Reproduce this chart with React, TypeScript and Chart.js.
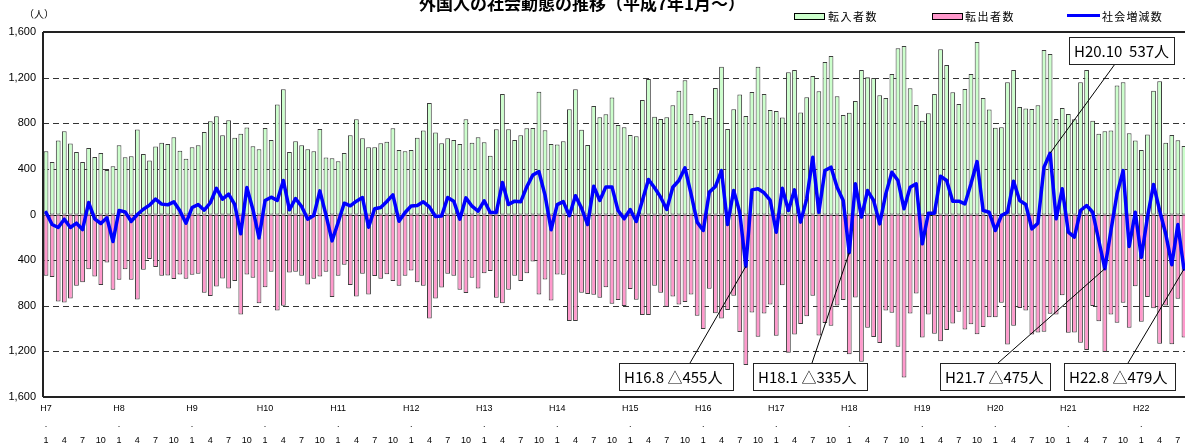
import React, { useEffect, useRef } from 'react';
import { Chart, registerables } from 'chart.js';

Chart.register(...registerables);

// ---- data ----
const yearLabels = ['H7', 'H8', 'H9', 'H10', 'H11', 'H12', 'H13', 'H14', 'H15', 'H16', 'H17', 'H18', 'H19', 'H20', 'H21', 'H22'];
const labeledMonths = [1, 4, 7, 10];

// 転入者数 (monthly, H7.1 - H22.8)
const inflow = [
  555, 461, 648, 730, 622, 549, 461, 584, 505, 540, 391, 423,
  607, 502, 511, 745, 531, 473, 596, 628, 619, 677, 558, 488,
  590, 607, 724, 818, 861, 695, 826, 672, 707, 762, 599, 572,
  759, 654, 964, 1098, 549, 642, 607, 572, 555, 750, 499, 493,
  467, 540, 695, 835, 669, 590, 590, 625, 637, 756, 566, 555,
  566, 672, 736, 978, 718, 625, 669, 654, 619, 835, 628, 677,
  634, 514, 748, 1057, 748, 654, 695, 756, 759, 1077, 739, 619,
  613, 642, 923, 1098, 742, 610, 952, 853, 879, 1025, 785, 765,
  698, 686, 1004, 1188, 858, 838, 853, 958, 1086, 1177, 882, 821,
  864, 847, 1110, 1296, 750, 923, 1051, 864, 1075, 1296, 1057, 917,
  908, 850, 1247, 1267, 894, 1028, 1215, 1080, 1337, 1390, 1037, 873,
  891, 996, 1267, 1203, 1197, 1045, 1022, 1232, 1457, 1478, 1107, 961,
  821, 888, 1057, 1448, 1311, 1072, 969, 1101, 1232, 1513, 1022, 920,
  760, 765, 1159, 1267, 943, 929, 926, 958, 1442, 1407, 838, 934,
  882, 835, 1159, 1267, 823, 707, 730, 736, 1130, 1159, 712, 648,
  566, 701, 1086, 1168, 628, 698, 651, 600,
];

// 転出者数 (monthly, H7.1 - H22.8)
const outflow = [
  537, 549, 762, 771, 736, 625, 593, 479, 543, 619, 420, 660,
  572, 479, 572, 745, 485, 391, 461, 537, 534, 566, 526, 564,
  529, 520, 686, 715, 631, 561, 648, 584, 876, 526, 555, 777,
  637, 502, 841, 800, 508, 502, 537, 613, 564, 543, 502, 724,
  537, 441, 619, 718, 520, 701, 540, 564, 523, 584, 625, 537,
  491, 593, 625, 911, 736, 639, 520, 537, 660, 689, 555, 648,
  514, 496, 730, 777, 660, 537, 584, 514, 412, 701, 569, 753,
  526, 529, 934, 934, 686, 698, 704, 730, 637, 783, 750, 803,
  654, 747, 881, 881, 624, 686, 809, 719, 788, 768, 701, 888,
  1004, 651, 865, 911, 838, 713, 1031, 1319, 859, 1071, 867, 790,
  1063, 620, 1212, 1051, 961, 891, 713, 1060, 952, 975, 798, 750,
  1226, 727, 1290, 993, 1074, 1127, 841, 861, 1159, 1428, 868, 692,
  1078, 876, 1045, 1112, 1013, 955, 852, 1008, 963, 1049, 987, 900,
  900, 774, 1139, 975, 820, 841, 1052, 1034, 1027, 870, 876, 709,
  1037, 1034, 1124, 1188, 803, 935, 1205, 876, 949, 774, 992, 628,
  940, 724, 823, 1133, 797, 1138, 739, 1079,
];

// 社会増減数 = 転入者数 - 転出者数
const netChange = inflow.map((v, i) => v - outflow[i]);

const yTickValues = [-1600, -1200, -800, -400, 0, 400, 800, 1200, 1600];
const seriesNames = ['転入者数', '転出者数', '社会増減数'];
const chartTitle = '外国人の社会動態の推移（平成7年1月～）';
const unitLabel = '（人）';
const calloutTexts = ['H16.8 △455人', 'H18.1 △335人', 'H20.10  537人', 'H21.7 △475人', 'H22.8 △479人'];
const calloutMonthIndex = [115, 132, 165, 174, 187];

// ---- layout / style ----
const calloutBoxes = [
  { x: 619, y: 363, w: 114, h: 27, ax: 690, ay: 363 },
  { x: 753, y: 363, w: 114, h: 27, ax: 812, ay: 363 },
  { x: 1069, y: 37, w: 105, h: 27, ax: 1115, ay: 64 },
  { x: 940, y: 363, w: 110, h: 27, ax: 998, ay: 363 },
  { x: 1064, y: 363, w: 111, h: 27, ax: 1128, ay: 363 },
];
const GREEN = '#ccffcc';
const PINK = '#ff99cc';
const BLUE = '#0000ff';
const BAR_EDGE = '#3c3c3c';
const CJK = '"Noto Sans CJK JP", "Noto Sans", sans-serif';

const monthLabels: string[][] = [];
for (let i = 0; i < inflow.length; i++) {
  const m = (i % 12) + 1;
  const yl = yearLabels[Math.floor(i / 12)];
  if (m === 1) monthLabels.push([yl, '.', '1']);
  else if (labeledMonths.includes(m)) monthLabels.push(['', '', String(m)]);
  else monthLabels.push(['', '', '']);
}

function drawSpaced(ctx: CanvasRenderingContext2D, text: string, x: number, y: number, pitch: number) {
  let cx = x;
  for (const ch of text) {
    ctx.fillText(ch, cx, y);
    cx += pitch;
  }
}

const decorPlugin = {
  id: 'decor',
  beforeDatasetsDraw(chart: any) {
    const { ctx, chartArea, scales } = chart;
    const { left, right } = chartArea;
    const y = scales.y;
    ctx.save();
    ctx.strokeStyle = '#333';
    ctx.lineWidth = 1;
    ctx.setLineDash([6, 4]);
    yTickValues.forEach((v) => {
      if (v === 0 || Math.abs(v) === 1600) return;
      const py = Math.round(y.getPixelForValue(v)) + 0.5;
      ctx.beginPath();
      ctx.moveTo(left, py);
      ctx.lineTo(right, py);
      ctx.stroke();
    });
    ctx.setLineDash([]);
    ctx.strokeStyle = '#000';
    const zy = Math.round(y.getPixelForValue(0)) + 0.5;
    ctx.beginPath();
    ctx.moveTo(left, zy);
    ctx.lineTo(right, zy);
    ctx.stroke();
    ctx.restore();
  },
  afterDraw(chart: any) {
    const { ctx, chartArea, scales } = chart;
    const { left, right, top, bottom } = chartArea;
    const x = scales.x;
    const y = scales.y;
    ctx.save();

    // frame
    ctx.strokeStyle = '#222';
    ctx.lineWidth = 2;
    ctx.beginPath();
    ctx.moveTo(left, top);
    ctx.lineTo(right, top);
    ctx.moveTo(left, bottom);
    ctx.lineTo(right, bottom);
    ctx.moveTo(left, top);
    ctx.lineTo(left, bottom);
    ctx.stroke();

    // title (partly above the visible area)
    ctx.fillStyle = '#000';
    ctx.font = `bold 17px ${CJK}`;
    ctx.textAlign = 'center';
    ctx.textBaseline = 'alphabetic';
    ctx.fillText(chartTitle, 582, 10);

    // unit label
    ctx.font = `10px ${CJK}`;
    ctx.textAlign = 'center';
    ctx.textBaseline = 'middle';
    ctx.fillText(unitLabel, 39, 14);

    // legend
    ctx.lineWidth = 1;
    ctx.strokeStyle = '#000';
    ctx.fillStyle = GREEN;
    ctx.fillRect(794.5, 13.5, 30, 6);
    ctx.strokeRect(794.5, 13.5, 30, 6);
    ctx.fillStyle = PINK;
    ctx.fillRect(932.5, 13.5, 30, 6);
    ctx.strokeRect(932.5, 13.5, 30, 6);
    ctx.strokeStyle = BLUE;
    ctx.lineWidth = 3;
    ctx.beginPath();
    ctx.moveTo(1067, 15.5);
    ctx.lineTo(1100, 15.5);
    ctx.stroke();
    ctx.fillStyle = '#000';
    ctx.font = `11px ${CJK}`;
    ctx.textAlign = 'left';
    ctx.textBaseline = 'middle';
    drawSpaced(ctx, seriesNames[0], 828, 16.5, 12.5);
    drawSpaced(ctx, seriesNames[1], 965, 16.5, 12.5);
    drawSpaced(ctx, seriesNames[2], 1102, 16.5, 12.2);

    // callouts
    calloutBoxes.forEach((b, k) => {
      const idx = calloutMonthIndex[k];
      const px = x.getPixelForValue(idx);
      const py = y.getPixelForValue(netChange[idx]);
      ctx.strokeStyle = '#000';
      ctx.lineWidth = 1;
      ctx.beginPath();
      ctx.moveTo(b.ax, b.ay);
      ctx.lineTo(px, py);
      ctx.stroke();
      ctx.fillStyle = '#fff';
      ctx.fillRect(b.x + 0.5, b.y + 0.5, b.w, b.h);
      ctx.strokeStyle = '#222';
      ctx.strokeRect(b.x + 0.5, b.y + 0.5, b.w, b.h);
      ctx.fillStyle = '#000';
      ctx.font = `15px ${CJK}`;
      ctx.textAlign = 'left';
      ctx.textBaseline = 'middle';
      ctx.fillText(calloutTexts[k], b.x + 5, b.y + b.h / 2 + 1);
    });

    ctx.restore();
  },
};

export default function App() {
  const canvasRef = useRef<HTMLCanvasElement | null>(null);

  useEffect(() => {
    const canvas = canvasRef.current;
    if (!canvas) return;
    const chart = new Chart(canvas, {
      type: 'bar',
      data: {
        labels: monthLabels,
        datasets: [
          {
            type: 'line',
            label: seriesNames[2],
            data: netChange,
            borderColor: BLUE,
            backgroundColor: BLUE,
            borderWidth: 3.5,
            pointRadius: 0,
            tension: 0,
            borderJoinStyle: 'round',
            borderCapStyle: 'round',
            stack: 'net',
            order: 0,
          } as any,
          {
            type: 'bar',
            label: seriesNames[0],
            data: inflow,
            backgroundColor: GREEN,
            borderColor: BAR_EDGE,
            borderWidth: 1,
            borderSkipped: false,
            stack: 'flow',
            order: 2,
            barPercentage: 0.78,
            categoryPercentage: 1,
          },
          {
            type: 'bar',
            label: seriesNames[1],
            data: outflow.map((v) => -v),
            backgroundColor: PINK,
            borderColor: BAR_EDGE,
            borderWidth: 1,
            borderSkipped: false,
            stack: 'flow',
            order: 2,
            barPercentage: 0.78,
            categoryPercentage: 1,
          },
        ],
      },
      options: {
        animation: false,
        responsive: false,
        devicePixelRatio: 1,
        layout: { padding: { top: 32, left: 0, right: 0, bottom: 0 } },
        plugins: {
          legend: { display: false },
          title: { display: false },
          tooltip: { enabled: false },
        },
        scales: {
          x: {
            stacked: true,
            offset: true,
            grid: { display: false, drawTicks: false },
            border: { display: false },
            ticks: {
              autoSkip: false,
              maxRotation: 0,
              minRotation: 0,
              color: '#000',
              padding: 3,
              font: { family: 'Liberation Sans', size: 9, lineHeight: 1.8 },
            },
            afterFit: (s: any) => {
              s.height = 49;
            },
          },
          y: {
            stacked: true,
            min: -1600,
            max: 1600,
            grid: { display: false, drawTicks: false },
            border: { display: false },
            ticks: {
              stepSize: 400,
              color: '#000',
              padding: 7,
              font: { family: 'Liberation Sans', size: 11 },
              callback: (v: any) => Math.abs(Number(v)).toLocaleString('en-US'),
            },
            afterFit: (s: any) => {
              s.width = 43;
            },
          },
        },
      } as any,
      plugins: [decorPlugin],
    });
    return () => chart.destroy();
  }, []);

  return (
    <div
      style={{
        position: 'absolute',
        left: 0,
        top: 0,
        width: 1185,
        height: 446,
        overflow: 'hidden',
        background: '#fff',
      }}
    >
      <canvas ref={canvasRef} width={1187} height={446} style={{ display: 'block', width: 1187, height: 446 }} />
    </div>
  );
}
